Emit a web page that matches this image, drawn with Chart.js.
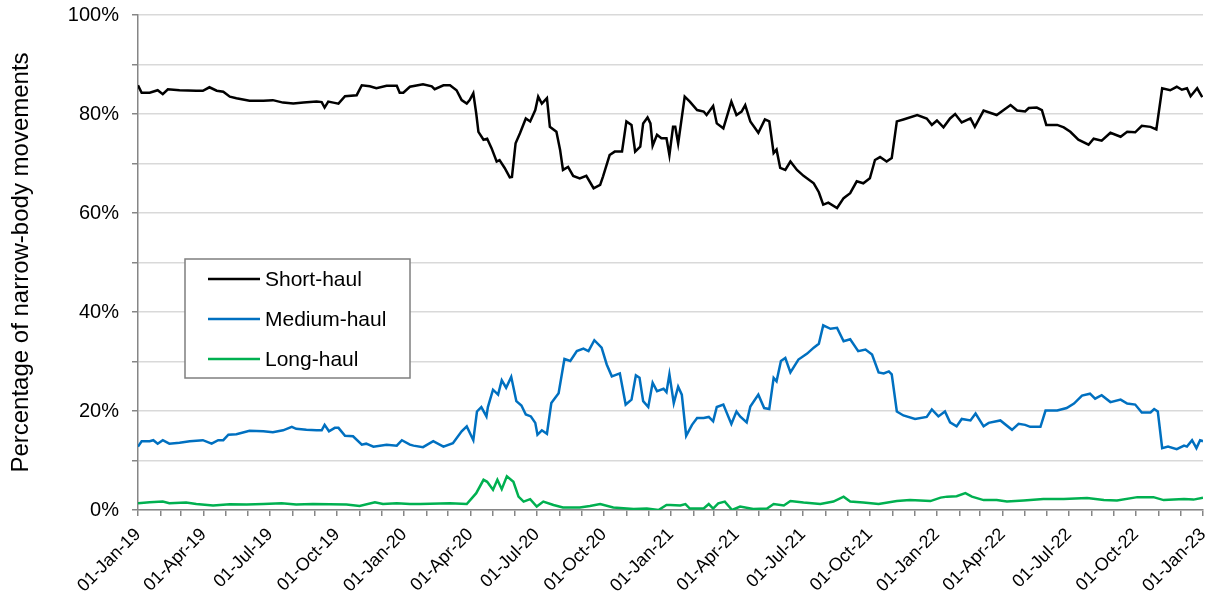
<!DOCTYPE html>
<html>
<head>
<meta charset="utf-8">
<script src="https://cdn.jsdelivr.net/npm/chart.js@4/dist/chart.umd.min.js"></script>
<style>
html,body{margin:0;padding:0;background:#fff;}
#c{display:block;}
</style>
</head>
<body>
<canvas id="c" width="1214" height="599" style="width:1214px;height:599px"></canvas>
<script>
// Days since 01-Jan-2019
const startYear = 2019;
const monthNames = ['Jan','Feb','Mar','Apr','May','Jun','Jul','Aug','Sep','Oct','Nov','Dec'];
const seriesLabels = ['Short-haul','Medium-haul','Long-haul'];

const shortDays = [0,5,16,27,34,41,57,80,89,98,108,117,126,135,153,172,185,199,213,227,245,252,256,261,268,275,284,300,307,318,327,341,355,359,364,373,391,403,407,419,428,437,444,451,455,460,464,467,474,479,485,492,496,503,510,513,518,524,532,538,545,549,554,561,565,574,579,583,590,597,606,615,625,634,638,647,654,664,670,677,682,689,693,699,703,706,712,718,725,729,734,737,741,750,757,767,776,780,789,794,803,814,821,828,833,840,851,860,866,872,876,881,888,895,904,913,927,934,940,947,959,968,977,986,995,1004,1011,1018,1027,1034,1041,1050,1069,1082,1089,1096,1105,1114,1121,1130,1142,1148,1160,1178,1197,1206,1217,1222,1233,1240,1246,1261,1270,1279,1290,1304,1311,1322,1334,1348,1357,1368,1377,1389,1397,1405,1416,1425,1432,1439,1444,1453,1460];
const shortVals = [85.8,84.3,84.3,84.8,84.0,85.0,84.8,84.7,84.7,85.4,84.7,84.5,83.5,83.2,82.7,82.7,82.8,82.3,82.1,82.3,82.5,82.4,81.3,82.5,82.3,82.1,83.6,83.8,85.8,85.6,85.2,85.7,85.7,84.3,84.3,85.5,86.0,85.6,85.0,85.8,85.8,84.8,82.8,82.1,82.8,84.2,80.1,76.4,74.8,75.0,73.1,70.4,70.7,69.1,67.2,67.3,74.1,76.1,79.1,78.5,80.8,83.5,82.1,83.2,77.4,76.4,72.8,68.7,69.3,67.5,67.0,67.5,65.0,65.7,67.4,71.7,72.4,72.4,78.5,77.8,72.4,73.4,78.1,79.3,78.1,73.6,75.8,75.1,75.1,71.7,77.4,77.4,74.0,83.5,82.5,80.8,80.5,79.8,81.6,78.1,77.1,82.5,79.8,80.5,81.8,78.5,76.2,78.9,78.5,72.1,72.8,69.1,68.7,70.4,68.7,67.5,66.0,64.2,61.7,62.1,61.0,63.0,64.0,66.4,66.0,67.0,70.7,71.3,70.4,71.1,78.5,78.9,79.8,79.1,77.8,78.7,77.3,79.1,80.0,78.3,79.1,77.4,80.7,79.8,81.8,80.7,80.5,81.2,81.3,80.8,77.8,77.8,77.3,76.4,74.8,73.8,75.0,74.6,76.2,75.4,76.4,76.3,77.6,77.4,76.9,85.2,84.8,85.5,84.9,85.2,83.6,85.2,83.4];

const mediumDays = [0,5,16,21,27,34,43,57,71,89,101,110,117,124,135,153,172,185,199,211,217,231,245,252,256,262,270,275,284,295,307,313,323,341,355,362,373,378,391,405,419,432,444,451,460,465,471,478,480,487,494,499,505,512,519,526,532,539,545,548,554,561,567,577,585,593,602,611,618,626,636,643,650,661,669,677,683,688,693,700,706,712,721,725,729,735,741,746,752,760,767,776,783,789,794,803,814,821,826,835,840,851,859,866,872,876,882,888,895,906,918,927,934,940,950,959,968,977,988,998,1007,1016,1023,1030,1034,1041,1050,1066,1082,1089,1098,1107,1114,1123,1130,1142,1149,1160,1167,1183,1199,1208,1217,1224,1238,1245,1261,1274,1284,1295,1306,1313,1322,1334,1348,1357,1368,1377,1389,1394,1399,1405,1413,1425,1435,1439,1446,1452,1457,1461];
const mediumVals = [12.8,13.9,13.9,14.1,13.4,14.1,13.4,13.6,13.9,14.1,13.4,14.1,14.1,15.2,15.3,16.0,15.9,15.7,16.1,16.8,16.4,16.2,16.1,16.1,17.2,15.9,16.6,16.6,15.0,14.9,13.2,13.4,12.8,13.2,13.0,14.1,13.2,13.0,12.7,13.9,12.8,13.5,15.9,16.9,14.1,19.9,20.8,18.9,20.8,24.3,23.3,26.2,24.7,26.9,22.0,21.1,19.3,18.9,17.6,15.2,16.1,15.4,21.6,23.6,30.5,30.1,32.1,32.6,32.1,34.3,32.8,29.4,27.0,27.6,21.3,22.3,27.2,26.7,22.0,20.8,25.7,24.0,24.5,23.8,27.4,21.6,24.9,23.3,15.0,17.2,18.6,18.6,18.8,17.9,20.8,21.3,17.4,19.9,18.9,17.7,20.9,23.3,20.6,20.4,26.7,26.0,30.1,30.7,27.8,30.4,31.6,32.8,33.6,37.3,36.6,36.8,34.1,34.5,32.1,32.4,31.4,27.8,27.6,28.0,27.4,19.9,19.1,18.4,18.8,20.3,18.9,19.9,17.7,16.9,18.4,18.1,19.5,16.9,17.6,18.1,16.2,17.4,17.2,16.8,16.8,20.1,20.1,20.6,21.5,23.1,23.5,22.5,23.2,21.8,22.3,21.5,21.3,19.7,19.7,20.4,19.9,12.5,12.8,12.3,13.0,12.8,14.1,12.5,14.1,13.9];

const longDays = [0,16,34,43,66,80,103,126,149,172,197,217,240,263,286,304,325,336,355,373,387,428,451,464,474,479,487,493,499,506,515,522,529,538,547,556,570,583,606,620,634,652,680,698,714,725,730,744,751,757,776,783,789,796,805,815,826,844,863,872,886,895,913,936,954,968,977,995,1016,1041,1059,1087,1101,1110,1123,1135,1144,1160,1178,1192,1215,1242,1270,1302,1325,1343,1371,1393,1407,1435,1448,1461];
const longVals = [1.35,1.55,1.7,1.35,1.5,1.2,0.9,1.15,1.1,1.2,1.35,1.1,1.2,1.15,1.1,0.8,1.55,1.2,1.35,1.2,1.2,1.35,1.2,3.4,6.1,5.7,4.1,6.1,4.2,6.8,5.7,2.7,1.7,2.2,0.7,1.7,1.0,0.5,0.5,0.8,1.2,0.5,0.2,0.3,0.0,1.0,1.0,0.9,1.2,0.3,0.3,1.2,0.3,1.35,1.7,0.0,0.7,0.2,0.3,1.2,0.9,1.8,1.5,1.2,1.7,2.7,1.7,1.5,1.2,1.8,2.0,1.8,2.5,2.7,2.8,3.4,2.7,2.0,2.0,1.7,1.9,2.2,2.2,2.4,2.0,1.9,2.6,2.6,2.0,2.2,2.1,2.5];

const seriesColors = ['#000000','#0070C0','#00B050'];

// month tick positions (days since start) and labels every 3 months
const DAY = 86400000;
const t0 = Date.UTC(startYear,0,1);
const monthTicks = [];
const tickLabels = {};
for (let m = 0; m <= 48; m++) {
  const d = Math.round((Date.UTC(startYear, m, 1) - t0) / DAY);
  monthTicks.push(d);
  if (m % 3 === 0) {
    const yy = String((startYear + Math.floor(m/12)) % 100).padStart(2,'0');
    tickLabels[d] = '01-' + monthNames[m % 12] + '-' + yy;
  }
}

const toPts = (days, vals) => days.map((d,i) => ({x:d, y:vals[i]}));

const FONT = "'Liberation Sans', Arial, sans-serif";

const bgPlugin = {
  id:'bg',
  beforeDraw(chart){
    const ctx = chart.ctx;
    ctx.save(); ctx.fillStyle='#fff'; ctx.fillRect(0,0,chart.width,chart.height); ctx.restore();
  }
};

const legendPlugin = {
  id:'boxLegend',
  afterDraw(chart){
    const ctx = chart.ctx;
    const x0 = 185, y0 = 259, w = 225, h = 119;
    ctx.save();
    ctx.fillStyle = '#fff';
    ctx.fillRect(x0, y0, w, h);
    ctx.strokeStyle = '#7f7f7f';
    ctx.lineWidth = 1.5;
    ctx.strokeRect(x0, y0, w, h);
    ctx.font = '21px ' + FONT;
    ctx.textBaseline = 'middle';
    ctx.textAlign = 'left';
    chart.data.datasets.forEach((ds, i) => {
      const yy = y0 + 20 + i * 40;
      ctx.strokeStyle = ds.borderColor;
      ctx.lineWidth = 2.5;
      ctx.beginPath(); ctx.moveTo(208, yy); ctx.lineTo(260, yy); ctx.stroke();
      ctx.fillStyle = '#000';
      ctx.fillText(ds.label, 265, yy + 1);
    });
    ctx.restore();
  }
};

new Chart(document.getElementById('c'), {
  type:'line',
  data:{
    datasets:[
      {label:seriesLabels[0], data:toPts(shortDays, shortVals), borderColor:seriesColors[0]},
      {label:seriesLabels[1], data:toPts(mediumDays, mediumVals), borderColor:seriesColors[1]},
      {label:seriesLabels[2], data:toPts(longDays, longVals), borderColor:seriesColors[2]}
    ].map(d => Object.assign(d, {borderWidth:2.5, pointRadius:0, tension:0, fill:false}))
  },
  options:{
    responsive:false,
    devicePixelRatio:1,
    animation:false,
    layout:{padding:{left:0, top:15, right:11, bottom:0}},
    plugins:{legend:{display:false}, tooltip:{enabled:false}},
    scales:{
      x:{
        type:'linear', min:0, max:1461,
        afterBuildTicks(s){ s.ticks = monthTicks.map(v => ({value:v})); },
        afterFit(s){ s.height = 89; s.paddingLeft = 0; s.paddingRight = 0; },
        ticks:{
          autoSkip:false, minRotation:45, maxRotation:45,
          font:{family:FONT, size:18}, color:'#000', padding:8,
          callback(v){ return tickLabels[v] !== undefined ? tickLabels[v] : ''; }
        },
        grid:{drawOnChartArea:false, drawTicks:true, tickLength:6, color:'#868686', lineWidth:1.5},
        border:{color:'#868686', width:1.5}
      },
      y:{
        min:0, max:100,
        afterFit(s){ s.width = 138; s.paddingTop = 0; s.paddingBottom = 0; },
        ticks:{
          stepSize:10,
          font:{family:FONT, size:20}, color:'#000', padding:13,
          callback(v){ return v % 20 === 0 ? v + '%' : ''; }
        },
        grid:{color:'#d9d9d9', lineWidth:1.5, tickLength:6, tickColor:'#868686'},
        border:{color:'#868686', width:1.5},
        title:{display:true, text:'Percentage of narrow-body movements', font:{family:FONT, size:24}, color:'#000', padding:{top:7, bottom:0}}
      }
    }
  },
  plugins:[bgPlugin, legendPlugin]
});
</script>
</body>
</html>
